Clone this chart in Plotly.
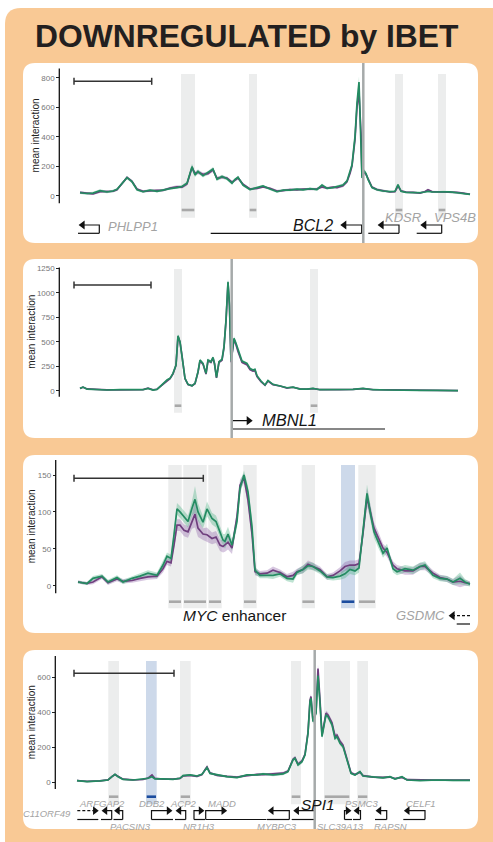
import plotly.graph_objects as go

W, H = 493, 842

# ======================= DATA =======================
# positions are in the panel's horizontal genomic-position units
# ---- Panel 1 : BCL2 ----
P1_POS = [80, 87, 93, 100, 107, 113, 117, 122, 127, 132,
          137, 143, 150, 157, 163, 170, 177, 182, 187, 192,
          195, 198, 203, 208, 213, 217, 222, 227, 232, 235,
          238, 243, 250, 257, 263, 270, 277, 283, 290, 297,
          303, 310, 317, 322, 327, 333, 337, 343, 347, 350,
          352, 355, 357, 359, 361, 362, 364, 366, 368, 372,
          377, 383, 390, 395, 398, 401, 406, 413, 420, 425,
          428, 432, 437, 443, 450, 457, 463, 470]
P1_GREEN = [20, 15, 18, 34, 25, 32, 43, 84, 122, 95,
            40, 27, 38, 30, 40, 48, 55, 62, 84, 197,
            140, 165, 135, 155, 180, 111, 130, 115, 85, 110,
            125, 72, 42, 55, 66, 45, 27, 38, 38, 45,
            40, 48, 42, 72, 50, 55, 62, 72, 100, 160,
            210, 400, 630, 770, 400, 120, 170, 150, 110, 55,
            40, 32, 28, 30, 75, 30, 22, 20, 20, 25,
            30, 25, 25, 28, 26, 20, 15, 9]
P1_PURPLE = [22, 18, 12, 28, 28, 30, 40, 80, 124, 98,
             45, 30, 34, 36, 36, 52, 60, 58, 80, 190,
             150, 160, 145, 150, 175, 118, 125, 120, 92, 105,
             120, 78, 45, 50, 60, 50, 32, 35, 42, 40,
             45, 44, 46, 60, 52, 58, 55, 68, 95, 150,
             200, 380, 600, 700, 420, 130, 160, 145, 115, 58,
             42, 34, 25, 28, 65, 33, 24, 22, 18, 28,
             40, 28, 27, 26, 28, 22, 17, 10]
P1_SPREAD = [8, 8, 8, 10, 8, 8, 8, 10, 10, 10,
             8, 8, 8, 8, 8, 8, 10, 10, 12, 20,
             15, 15, 12, 12, 15, 12, 12, 10, 10, 10,
             12, 10, 8, 8, 8, 8, 8, 8, 8, 8,
             8, 8, 8, 10, 8, 8, 8, 10, 10, 12,
             15, 25, 35, 40, 30, 15, 15, 12, 10, 8,
             8, 8, 6, 6, 8, 6, 6, 6, 6, 6,
             6, 6, 6, 6, 6, 6, 6, 6]
P1_TICKS = [0, 200, 400, 600, 800]

# ---- Panel 2 : MBNL1 ----
P2_POS = [80, 83, 87, 97, 107, 120, 133, 143, 148, 153,
          157, 160, 163, 167, 170, 173, 176, 178, 180, 182,
          185, 188, 192, 195, 198, 200, 203, 206, 208, 211,
          213, 214.5, 216.5, 219, 222, 224, 226, 228, 229.5, 231,
          234, 236, 238, 242, 247, 250, 253, 255, 257, 261,
          265, 268, 273, 280, 287, 293, 300, 307, 313, 320,
          330, 340, 353, 363, 373, 387, 403, 420, 437, 458]
P2_GREEN = [24, 37, 17, 10, 7, 10, 7, 10, 24, 7,
            14, 41, 75, 109, 126, 177, 262, 560, 501, 364,
            126, 65, 51, 75, 194, 313, 279, 177, 313, 296,
            340, 279, 137, 296, 320, 450, 722, 1113, 875, 300,
            535, 484, 416, 303, 279, 228, 211, 218, 153, 99,
            58, 105, 65, 51, 30, 37, 17, 17, 24, 10,
            10, 10, 14, 24, 10, 7, 3, 3, 3, 0]
P2_PURPLE = [22, 35, 18, 11, 8, 9, 8, 11, 26, 9,
             15, 40, 72, 105, 122, 172, 258, 552, 495, 358,
             122, 62, 50, 72, 188, 305, 272, 170, 305, 290,
             335, 275, 130, 290, 312, 440, 710, 1100, 860, 290,
             525, 470, 400, 290, 265, 215, 200, 205, 145, 92,
             55, 98, 60, 48, 27, 35, 18, 16, 22, 11,
             9, 11, 13, 22, 11, 8, 4, 3, 4, 1]
P2_SPREAD = [5, 5, 5, 4, 4, 4, 4, 4, 5, 4,
             4, 6, 8, 10, 10, 12, 15, 20, 20, 15,
             10, 8, 8, 8, 12, 15, 15, 12, 15, 15,
             15, 15, 10, 15, 15, 20, 25, 30, 25, 20,
             20, 20, 15, 12, 12, 10, 10, 10, 8, 8,
             6, 8, 6, 6, 5, 5, 5, 5, 5, 4,
             4, 4, 4, 4, 4, 4, 4, 4, 4, 4]
P2_TICKS = [0, 250, 500, 750, 1000, 1250]

# ---- Panel 3 : MYC enhancer ----
P3_POS = [78, 87, 93, 102, 108, 117, 123, 132, 140, 148,
          157, 163, 167, 171, 174, 177, 180, 184, 188, 192,
          195, 198, 203, 207, 212, 216, 220, 223, 225, 228,
          232, 237, 240, 244, 248, 252, 255, 260, 267, 273,
          280, 287, 293, 297, 303, 308, 313, 320, 327, 333,
          340, 345, 350, 355, 359, 363, 367, 371, 374, 378,
          383, 387, 393, 397, 405, 413, 420, 425, 433, 440,
          447, 453, 460, 465, 470]
P3_GREEN = [5, 3, 10, 13, 5, 11, 5, 10, 13, 17,
            14, 28, 40, 37, 69, 104, 100, 94, 87, 105,
            117, 100, 86, 104, 91, 87, 73, 62, 60, 70,
            55, 87, 132, 150, 127, 80, 21, 14, 14, 14,
            16, 10, 9, 18, 22, 27, 26, 20, 12, 11,
            13, 16, 22, 20, 24, 75, 125, 94, 73, 60,
            44, 51, 23, 19, 23, 21, 26, 28, 14, 10,
            9, 5, 10, 5, 2]
P3_PURPLE = [5, 3, 5, 12, 4, 9, 6, 7, 10, 12,
             13, 23, 33, 31, 55, 82, 82, 75, 73, 87,
             97, 78, 70, 69, 64, 66, 55, 53, 56, 59,
             51, 94, 136, 146, 116, 70, 19, 16, 17, 21,
             18, 12, 14, 19, 22, 29, 26, 22, 12, 14,
             20, 26, 28, 28, 30, 71, 120, 98, 78, 66,
             51, 45, 28, 23, 20, 20, 26, 26, 17, 11,
             9, 5, 6, 4, 3]
P3_SPREAD = [2, 2, 3, 3, 3, 3, 3, 3, 4, 4,
             4, 5, 5, 5, 8, 8, 8, 8, 8, 10,
             18, 12, 8, 10, 8, 8, 8, 8, 10, 10,
             8, 8, 8, 6, 8, 8, 5, 4, 4, 5,
             4, 4, 5, 4, 5, 5, 5, 4, 4, 4,
             5, 6, 6, 6, 6, 8, 12, 10, 8, 8,
             6, 6, 5, 5, 5, 5, 5, 5, 4, 4,
             4, 4, 8, 4, 3]
P3_TICKS = [0, 50, 100, 150]

# ---- Panel 4 : SPI1 ----
P4_POS = [77, 87, 100, 108, 112, 115, 118, 123, 133, 143,
          148, 152, 155, 163, 173, 180, 183, 190, 197, 202,
          205, 207, 210, 217, 227, 237, 247, 257, 263, 273,
          283, 288, 293, 295, 298, 302, 305, 308, 310, 311,
          313, 316, 318, 320, 322, 326, 328, 332, 335, 337,
          340, 343, 347, 351, 355, 360, 363, 373, 383, 390,
          395, 402, 407, 420, 437, 453, 470]
P4_GREEN = [10, 4, 8, 13, 32, 46, 32, 17, 13, 17,
            23, 32, 19, 19, 17, 23, 38, 42, 36, 46,
            70, 84, 51, 42, 32, 27, 42, 42, 48, 42,
            48, 61, 128, 137, 99, 118, 156, 280, 461, 480,
            347, 394, 610, 450, 261, 385, 375, 328, 251, 261,
            223, 204, 128, 51, 42, 61, 36, 32, 25, 32,
            19, 32, 13, 10, 13, 11, 11]
P4_PURPLE = [10, 5, 8, 14, 33, 44, 34, 18, 14, 16,
             24, 42, 22, 18, 18, 22, 36, 40, 34, 44,
             72, 88, 54, 40, 34, 30, 38, 45, 44, 46,
             52, 64, 132, 140, 104, 122, 160, 285, 470, 490,
             350, 400, 650, 470, 270, 395, 385, 340, 265, 270,
             235, 212, 135, 55, 44, 58, 38, 30, 28, 30,
             21, 28, 15, 12, 12, 12, 12]
P4_SPREAD = [4, 4, 4, 4, 5, 6, 5, 4, 4, 4,
             5, 6, 5, 4, 4, 5, 6, 6, 6, 6,
             8, 8, 6, 6, 6, 6, 6, 6, 6, 8,
             8, 8, 10, 10, 10, 10, 10, 12, 15, 15,
             15, 15, 25, 20, 15, 15, 15, 15, 12, 12,
             12, 12, 10, 8, 6, 8, 6, 6, 6, 6,
             5, 6, 5, 5, 5, 5, 5]
P4_TICKS = [0, 200, 400, 600]

# ---- genes ----
P1_GENE_NAME = ["PHLPP1", "BCL2", "KDSR", "VPS4B"]
P1_GENE_START = [78, 210.7, 368.3, 416.7]
P1_GENE_END = [99.3, 361.7, 399, 441.7]
P1_GENE_STRAND = ["-", "-", "-", "-"]
P1_GENE_PARTIAL = [False, False, False, False]

P2_GENE_NAME = ["MBNL1"]
P2_GENE_START = [232.3]
P2_GENE_END = [385]
P2_GENE_STRAND = ["+"]
P2_GENE_PARTIAL = [False]

P3_GENE_NAME = ["GSDMC"]
P3_GENE_START = [456.7]
P3_GENE_END = [470]
P3_GENE_STRAND = ["-"]
P3_GENE_PARTIAL = [True]

P4_GENE_NAME = ["C11ORF49", "ARFGAP2", "PACSIN3", "DDB2", "ACP2", "NR1H3", "MADD",
                "MYBPC3", "SPI1", "SLC39A13", "PSMC3", "RAPSN", "CELF1"]
P4_GENE_START = [77.3, 101, 113.5, 151.5, 175, 194, 205.7, 267, 291.7, 344.5, 353, 375, 403.3]
P4_GENE_END = [98.3, 111.7, 122.7, 173, 185.7, 205, 266.5, 289.3, 314.7, 352, 360.5, 386.7, 425]
P4_GENE_STRAND = ["+", "-", "-", "+", "-", "+", "+", "-", "-", "+", "-", "-", "-"]
P4_GENE_PARTIAL = [True] + [False] * 12

# ---- highlighted regions ----
P1_REGION_START = [181, 249, 395, 438]
P1_REGION_END = [195, 257, 403, 446]
P1_REGION_KIND = ["gray", "gray", "gray", "gray"]
P2_REGION_START = [174, 310]
P2_REGION_END = [182, 318]
P2_REGION_KIND = ["gray", "gray"]
P3_REGION_START = [168.3, 183.3, 208.3, 243.3, 301.7, 341, 358.3]
P3_REGION_END = [181.7, 206.7, 221.7, 256.7, 315, 355, 375.7]
P3_REGION_KIND = ["gray", "gray", "gray", "gray", "gray", "blue", "gray"]
P4_REGION_START = [108.3, 146, 180, 291, 324, 357.3]
P4_REGION_END = [119, 156.7, 190.7, 301, 350, 368]
P4_REGION_KIND = ["gray", "blue", "gray", "gray", "gray", "gray"]

# viewpoints and scale bars
VIEWPOINT = [363.3, 231.7, None, 314.7]
SCALEBAR_START = [74, 74, 74, 74]
SCALEBAR_END = [151.7, 151, 203.3, 174]

# ======================= STYLE / LAYOUT =======================
ORANGE = "#F9C995"
GREEN = "#248B62"
PURPLE = "#6F3F7E"
GREEN_FILL = "rgba(70,175,125,0.35)"
PURPLE_FILL = "rgba(140,95,165,0.35)"
BAND_GRAY = "#ECEDED"
BAND_BLUE = "#CDD9EA"
BAR_GRAY = "#A8A8A8"
BAR_BLUE = "#1B4C9E"
TXT_GRAY = "#A3A3A3"
TXT_BLACK = "#151515"
FONT = "Liberation Sans, Arial, Helvetica, sans-serif"

LAYOUT = [
    dict(box=(23, 63, 478, 243), zero=195.7, ppu=118 / 800, axis_x=59.3, span=(-52, 863),
         title_x=35.5, band=(74, 217.7, 210), arrow_y=225, line_y=233.3, sb_y=81.3,
         head=8, maxlen=22),
    dict(box=(23, 259, 478, 438), zero=390.7, ppu=122.4 / 1250, axis_x=59.3, span=(-61, 1257),
         title_x=31.5, band=(269, 412.7, 405.7), arrow_y=420.7, line_y=429, sb_y=285,
         head=8, maxlen=21),
    dict(box=(23, 455, 478, 633), zero=585.7, ppu=110.7 / 150, axis_x=55.7, span=(-10.3, 170.3),
         title_x=31.7, band=(465, 608.3, 601.7), arrow_y=615.7, line_y=624, sb_y=478.3,
         head=8, maxlen=22),
    dict(box=(23, 650, 478, 829), zero=782.3, ppu=105 / 600, axis_x=55.3, span=(-38, 722),
         title_x=31.7, band=(661, 804.3, 796.7), arrow_y=810.7, line_y=819.5, sb_y=673.3,
         head=7.5, maxlen=22),
]

LABELS = [
    [("<i>PHLPP1</i>", 106, 226.7, 13, TXT_GRAY, "left"),
     ("<i>BCL2</i>", 335, 225.7, 16, TXT_BLACK, "right"),
     ("<i>KDSR</i>", 403.3, 217.7, 13, TXT_GRAY, "center"),
     ("<i>VPS4B</i>", 455, 217.7, 13, TXT_GRAY, "center")],
    [("<i>MBNL1</i>", 260, 420.3, 16.5, TXT_BLACK, "left")],
    [("<i>MYC</i> enhancer", 234, 615.7, 15.5, TXT_BLACK, "center"),
     ("<i>GSDMC</i>", 446.5, 615.7, 13, TXT_GRAY, "right")],
    [("<i>C11ORF49</i>", 73.3, 813, 9.5, TXT_GRAY, "right"),
     ("<i>ARFGAP2</i>", 101.7, 803, 9.5, TXT_GRAY, "center"),
     ("<i>DDB2</i>", 151.7, 803, 9.5, TXT_GRAY, "center"),
     ("<i>ACP2</i>", 183.3, 803, 9.5, TXT_GRAY, "center"),
     ("<i>MADD</i>", 221.7, 803, 9.5, TXT_GRAY, "center"),
     ("<i>PSMC3</i>", 361.7, 803, 9.5, TXT_GRAY, "center"),
     ("<i>CELF1</i>", 421, 803, 9.5, TXT_GRAY, "center"),
     ("<i>SPI1</i>", 317.7, 804, 15.5, TXT_BLACK, "center"),
     ("<i>PACSIN3</i>", 130, 826.7, 9.5, TXT_GRAY, "center"),
     ("<i>NR1H3</i>", 199, 826.7, 9.5, TXT_GRAY, "center"),
     ("<i>MYBPC3</i>", 277.3, 826.7, 9.5, TXT_GRAY, "center"),
     ("<i>SLC39A13</i>", 340, 826.7, 9.5, TXT_GRAY, "center"),
     ("<i>RAPSN</i>", 390, 826.7, 9.5, TXT_GRAY, "center")],
]

PANELS = [
    dict(pos=P1_POS, green=P1_GREEN, purple=P1_PURPLE, spread=P1_SPREAD, ticks=P1_TICKS,
         genes=(P1_GENE_NAME, P1_GENE_START, P1_GENE_END, P1_GENE_STRAND, P1_GENE_PARTIAL),
         regions=(P1_REGION_START, P1_REGION_END, P1_REGION_KIND)),
    dict(pos=P2_POS, green=P2_GREEN, purple=P2_PURPLE, spread=P2_SPREAD, ticks=P2_TICKS,
         genes=(P2_GENE_NAME, P2_GENE_START, P2_GENE_END, P2_GENE_STRAND, P2_GENE_PARTIAL),
         regions=(P2_REGION_START, P2_REGION_END, P2_REGION_KIND)),
    dict(pos=P3_POS, green=P3_GREEN, purple=P3_PURPLE, spread=P3_SPREAD, ticks=P3_TICKS,
         genes=(P3_GENE_NAME, P3_GENE_START, P3_GENE_END, P3_GENE_STRAND, P3_GENE_PARTIAL),
         regions=(P3_REGION_START, P3_REGION_END, P3_REGION_KIND)),
    dict(pos=P4_POS, green=P4_GREEN, purple=P4_PURPLE, spread=P4_SPREAD, ticks=P4_TICKS,
         genes=(P4_GENE_NAME, P4_GENE_START, P4_GENE_END, P4_GENE_STRAND, P4_GENE_PARTIAL),
         regions=(P4_REGION_START, P4_REGION_END, P4_REGION_KIND)),
]


def rrect_path(x0, y0, x1, y1, r):
    fx = lambda x: x / W
    fy = lambda y: 1 - y / H
    return (f"M {fx(x0 + r)},{fy(y0)} L {fx(x1 - r)},{fy(y0)} Q {fx(x1)},{fy(y0)} {fx(x1)},{fy(y0 + r)} "
            f"L {fx(x1)},{fy(y1 - r)} Q {fx(x1)},{fy(y1)} {fx(x1 - r)},{fy(y1)} "
            f"L {fx(x0 + r)},{fy(y1)} Q {fx(x0)},{fy(y1)} {fx(x0)},{fy(y1 - r)} "
            f"L {fx(x0)},{fy(y0 + r)} Q {fx(x0)},{fy(y0)} {fx(x0 + r)},{fy(y0)} Z")


fig = go.Figure()
shapes = []
annots = []
layout_axes = {}

# backgrounds
shapes.append(dict(type="path", xref="paper", yref="paper", path=rrect_path(5, 8, 515, 870, 16),
                   fillcolor=ORANGE, line=dict(width=0), layer="below"))
for L in LAYOUT:
    x0, y0, x1, y1 = L["box"]
    shapes.append(dict(type="path", xref="paper", yref="paper", path=rrect_path(x0, y0, x1, y1, 12),
                       fillcolor="white", line=dict(width=0), layer="below"))

for i, (P, L) in enumerate(zip(PANELS, LAYOUT)):
    k = i + 1
    xn = "x" if k == 1 else f"x{k}"
    yn = "y" if k == 1 else f"y{k}"
    xk = "xaxis" if k == 1 else f"xaxis{k}"
    yk = "yaxis" if k == 1 else f"yaxis{k}"
    bx0, by0, bx1, by1 = L["box"]

    def val(py, L=L):
        return (L["zero"] - py) / L["ppu"]

    layout_axes[xk] = dict(domain=[bx0 / W, bx1 / W], range=[bx0, bx1], visible=False,
                           anchor=yn, fixedrange=True)
    layout_axes[yk] = dict(domain=[1 - by1 / H, 1 - by0 / H], range=[val(by1), val(by0)],
                           anchor="free", position=L["axis_x"] / W, tickvals=P["ticks"],
                           ticks="outside", ticklen=3, tickwidth=1, tickcolor="#222",
                           showline=False, showgrid=False, zeroline=False,
                           tickfont=dict(size=8, color="#777", family=FONT), fixedrange=True)

    # ribbons + lines
    pos = P["pos"]
    for series, fillc, linec in [(P["purple"], PURPLE_FILL, PURPLE), (P["green"], GREEN_FILL, GREEN)]:
        up = [v + s for v, s in zip(series, P["spread"])]
        lo = [v - s for v, s in zip(series, P["spread"])]
        fig.add_trace(go.Scatter(x=list(pos) + list(pos)[::-1], y=up + lo[::-1], fill="toself",
                                 fillcolor=fillc, line=dict(width=0), mode="lines",
                                 xaxis=xn, yaxis=yn, hoverinfo="skip", showlegend=False))
    for series, linec in [(P["purple"], PURPLE), (P["green"], GREEN)]:
        fig.add_trace(go.Scatter(x=pos, y=series, mode="lines", line=dict(color=linec, width=1.7),
                                 xaxis=xn, yaxis=yn, showlegend=False))

    # regions
    bt, bb, bar = L["band"]
    for s, e, kind in zip(*P["regions"]):
        shapes.append(dict(type="rect", xref=xn, yref=yn, x0=s, x1=e, y0=val(bb), y1=val(bt),
                           fillcolor=BAND_BLUE if kind == "blue" else BAND_GRAY,
                           line=dict(width=0), layer="below"))
        shapes.append(dict(type="rect", xref=xn, yref=yn, x0=s + 0.7, x1=e - 0.7,
                           y0=val(bar + 1.3), y1=val(bar - 1.3),
                           fillcolor=BAR_BLUE if kind == "blue" else BAR_GRAY,
                           line=dict(width=0), layer="below"))

    # axis line
    shapes.append(dict(type="line", xref=xn, yref=yn, x0=L["axis_x"], x1=L["axis_x"],
                       y0=L["span"][0], y1=L["span"][1], line=dict(color="#111", width=1.3),
                       layer="above"))
    annots.append(dict(text="mean interaction", xref="paper", yref="paper",
                       x=L["title_x"] / W,
                       y=1 - ((L["zero"] - L["span"][1] * L["ppu"]) + (L["zero"] - L["span"][0] * L["ppu"])) / 2 / H,
                       textangle=-90, showarrow=False, xanchor="center", yanchor="middle",
                       font=dict(size=10, color="#222", family=FONT)))

    # scale bar
    sb0, sb1, sy = SCALEBAR_START[i], SCALEBAR_END[i], L["sb_y"]
    for sh in [(sb0, sb1, sy, sy), (sb0, sb0, sy - 3.5, sy + 3.5), (sb1, sb1, sy - 3.5, sy + 3.5)]:
        shapes.append(dict(type="line", xref=xn, yref=yn, x0=sh[0], x1=sh[1],
                           y0=val(sh[2]), y1=val(sh[3]), line=dict(color="#333", width=1.5),
                           layer="above"))

    # viewpoint
    if VIEWPOINT[i] is not None:
        shapes.append(dict(type="line", xref=xn, yref=yn, x0=VIEWPOINT[i], x1=VIEWPOINT[i],
                           y0=val(by1), y1=val(by0), line=dict(color="#A6AAAA", width=2.5),
                           layer="above"))

    # genes
    ay, ly = val(L["arrow_y"]), val(L["line_y"])
    ms = L["head"]
    bodx, body, elx, ely, dx, dy = [], [], [], [], [], []
    rx, ry, lx, lyy = [], [], [], []
    for name, s, e, strand, partial in zip(*P["genes"]):
        bodx += [s, e, None]
        body += [ly, ly, None]
        alen = L["maxlen"] if partial else min(L["maxlen"], e - s)
        if strand == "+":
            tss, tip = s, s + alen
            c = tip - 0.577 * ms
            rx.append(c); ry.append(ay)
        else:
            tss, tip = e, e - alen
            c = tip + 0.577 * ms
            lx.append(c); lyy.append(ay)
        if partial:
            dx += [tss, c, None]; dy += [ay, ay, None]
        else:
            elx += [tss, tss, c, None]; ely += [ly, ay, ay, None]
    fig.add_trace(go.Scatter(x=bodx, y=body, mode="lines", line=dict(color="#111", width=1.2),
                             xaxis=xn, yaxis=yn, showlegend=False, hoverinfo="skip"))
    if elx:
        fig.add_trace(go.Scatter(x=elx, y=ely, mode="lines", line=dict(color="#111", width=1.2),
                                 xaxis=xn, yaxis=yn, showlegend=False, hoverinfo="skip"))
    if dx:
        fig.add_trace(go.Scatter(x=dx, y=dy, mode="lines",
                                 line=dict(color="#111", width=1.2, dash="3px,2px"),
                                 xaxis=xn, yaxis=yn, showlegend=False, hoverinfo="skip"))
    if rx:
        fig.add_trace(go.Scatter(x=rx, y=ry, mode="markers",
                                 marker=dict(symbol="triangle-right", size=ms, color="#111",
                                             line=dict(width=0)),
                                 xaxis=xn, yaxis=yn, showlegend=False, hoverinfo="skip"))
    if lx:
        fig.add_trace(go.Scatter(x=lx, y=lyy, mode="markers",
                                 marker=dict(symbol="triangle-left", size=ms, color="#111",
                                             line=dict(width=0)),
                                 xaxis=xn, yaxis=yn, showlegend=False, hoverinfo="skip"))

    for text, x, py, size, color, xa in LABELS[i]:
        annots.append(dict(text=text, xref=xn, yref=yn, x=x, y=val(py), showarrow=False,
                           xanchor=xa, yanchor="middle",
                           font=dict(size=size, color=color, family=FONT)))

# title
annots.append(dict(text="<b>DOWNREGULATED by IBET</b>", xref="paper", yref="paper",
                   x=247.5 / W, y=1 - 36 / H, showarrow=False, xanchor="center", yanchor="middle",
                   font=dict(size=31.8, color="#231F20", family=FONT)))

fig.update_layout(width=W, height=H, autosize=False, margin=dict(l=0, r=0, t=0, b=0),
                  paper_bgcolor="white", plot_bgcolor="rgba(0,0,0,0)", showlegend=False,
                  shapes=shapes, annotations=annots, font=dict(family=FONT), **layout_axes)

fig.write_html("out.html")
